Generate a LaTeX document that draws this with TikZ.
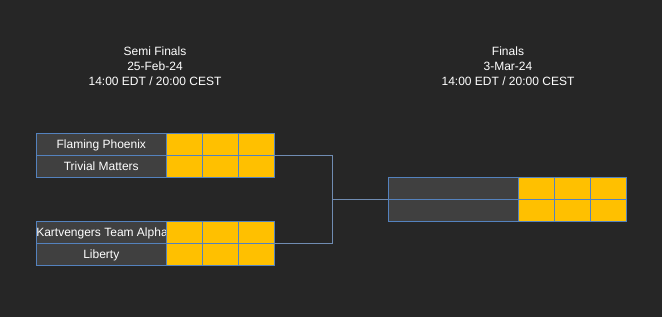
\documentclass[tikz,border=0pt]{standalone}
\usepackage{fontspec}
\setmainfont{Liberation Sans}
\usetikzlibrary{positioning}
\definecolor{bgdark}{RGB}{38,38,38}
\definecolor{slot}{RGB}{64,64,64}
\definecolor{gold}{RGB}{255,192,0}
\definecolor{edge}{RGB}{84,130,190}
\definecolor{wire}{RGB}{112,140,178}

\begin{document}
\begin{tikzpicture}[x=1pt,y=-1pt,
  font=\fontsize{12}{15}\selectfont,
  every node/.style={text=white,outer sep=0pt},
  team/.style={draw=edge,line width=0.9pt,fill=slot,minimum width=130pt,minimum height=22pt,inner sep=0pt,text height=9pt,text depth=1.5pt,anchor=north west},
  score/.style={draw=edge,line width=0.9pt,fill=gold,minimum width=36pt,minimum height=22pt,inner sep=0pt},
  header/.style={align=center},
  wire/.style={draw=wire,line width=0.8pt}]

\fill[bgdark] (0,0) rectangle (662,317);
\useasboundingbox (0,0) rectangle (662,317);

% ---- headers ----
\node[header] (semihead) at (155,66) {Semi Finals\\25-Feb-24\\14:00 EDT / 20:00 CEST};
\node[header] (finhead) at (508,66) {Finals\\3-Mar-24\\14:00 EDT / 20:00 CEST};

% ---- semi finals ----
\node[team] (phoenix) at (36.3,133.3) {Flaming Phoenix};
\node[team] (trivial) at (36.3,155.3) {Trivial Matters};
\node[team] (kart) at (36.3,221.5) {\makebox[130pt][l]{Kartvengers Team Alpha}};
\node[team] (liberty) at (36.3,243.5) {Liberty};

% ---- final ----
\node[team] (fintop) at (388.3,177.3) {};
\node[team] (finbot) at (388.3,199.3) {};

% score cells
\foreach \t in {phoenix,trivial,kart,liberty,fintop,finbot}{
  \node[score,right=0pt of \t] (\t1) {};
  \node[score,right=0pt of \t1] (\t2) {};
  \node[score,right=0pt of \t2] (\t3) {};
}

% ---- bracket lines ----
\coordinate (join) at (332.3,199.3);
\draw[wire] (phoenix3.south east) -| (join) |- (kart3.south east);
\draw[wire] (join) -- (fintop.south west);
\end{tikzpicture}
\end{document}
